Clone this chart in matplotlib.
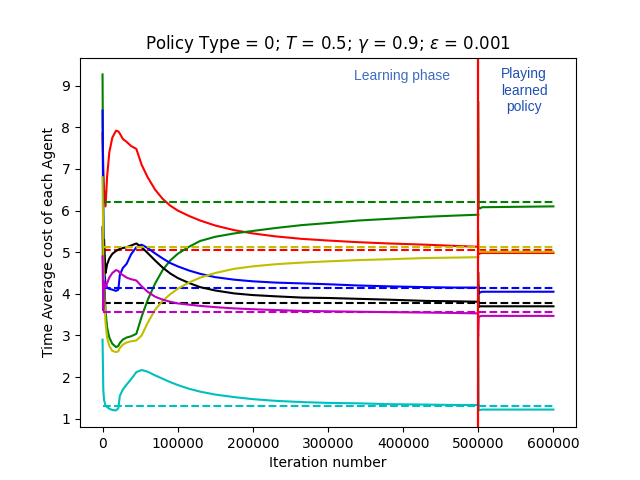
import matplotlib
matplotlib.use('Agg')
import matplotlib.pyplot as plt

# learning phase iterations
learn_x = [0, 1000, 2000, 4000, 6000, 9000, 13000, 18000, 21000, 23000, 27000,
           32000, 38000, 45000, 52000, 60000, 70000, 80000, 90000, 100000, 115000,
           130000, 150000, 175000, 200000, 230000, 265000, 300000, 340000, 380000,
           430000, 470000, 500000]

red_learn = [7.85, 7.0, 6.5, 6.1, 6.8, 7.4, 7.75, 7.92, 7.9, 7.85, 7.72, 7.65, 7.55,
             7.48, 7.1, 6.8, 6.5, 6.28, 6.12, 6.0, 5.87, 5.76, 5.64, 5.53, 5.45, 5.38,
             5.32, 5.28, 5.24, 5.21, 5.18, 5.15, 5.13]
green_learn = [9.27, 6.0, 4.5, 3.6, 3.2, 2.95, 2.8, 2.72, 2.75, 2.82, 2.9, 2.95, 2.98,
               3.04, 3.45, 3.85, 4.25, 4.57, 4.8, 4.96, 5.13, 5.27, 5.37, 5.45, 5.51, 5.58,
               5.65, 5.70, 5.76, 5.80, 5.85, 5.88, 5.90]
blue_learn = [8.4, 5.5, 4.6, 4.25, 4.15, 4.12, 4.1, 4.07, 4.1, 4.45, 4.62, 4.72, 4.95,
              5.12, 5.18, 5.1, 4.97, 4.85, 4.74, 4.66, 4.56, 4.48, 4.40, 4.34, 4.30, 4.27,
              4.25, 4.23, 4.20, 4.18, 4.16, 4.15, 4.15]
black_learn = [5.6, 4.2, 5.3, 4.5, 4.7, 4.85, 4.96, 5.03, 5.06, 5.08, 5.1, 5.12, 5.16,
               5.21, 5.12, 4.98, 4.8, 4.63, 4.49, 4.38, 4.26, 4.16, 4.08, 4.01, 3.97, 3.94,
               3.91, 3.90, 3.88, 3.86, 3.83, 3.82, 3.81]
yellow_learn = [6.8, 5.0, 4.0, 3.3, 2.95, 2.75, 2.63, 2.6, 2.62, 2.7, 2.78, 2.83, 2.86,
                2.88, 3.0, 3.3, 3.62, 3.83, 3.99, 4.12, 4.27, 4.39, 4.5, 4.60, 4.66, 4.71,
                4.75, 4.78, 4.81, 4.83, 4.86, 4.87, 4.88]
magenta_learn = [4.9, 3.6, 4.3, 4.15, 4.25, 4.39, 4.5, 4.57, 4.55, 4.5, 4.45, 4.39, 4.35,
                 4.32, 4.18, 4.05, 3.93, 3.86, 3.81, 3.77, 3.74, 3.71, 3.68, 3.65, 3.63,
                 3.61, 3.59, 3.58, 3.57, 3.56, 3.55, 3.54, 3.53]
cyan_learn = [2.9, 1.7, 1.45, 1.32, 1.28, 1.24, 1.21, 1.2, 1.25, 1.55, 1.7, 1.82, 1.95,
              2.12, 2.17, 2.13, 2.04, 1.96, 1.88, 1.81, 1.72, 1.65, 1.58, 1.52, 1.47, 1.43,
              1.40, 1.38, 1.37, 1.35, 1.34, 1.33, 1.33]

# playing phase iterations
play_x = [500000, 500500, 502000, 505000, 600000]
red_play = [5.1, 4.95, 4.97, 4.98, 4.98]
green_play = [8.6, 6.05, 6.05, 6.08, 6.10]
blue_play = [4.2, 4.0, 4.03, 4.05, 4.05]
black_play = [4.5, 3.68, 3.70, 3.70, 3.70]
yellow_play = [5.5, 5.0, 5.02, 5.01, 5.01]
magenta_play = [3.0, 3.45, 3.46, 3.47, 3.47]
cyan_play = [3.0, 1.2, 1.21, 1.22, 1.22]

# optimal costs (dashed)
optimal = [5.05, 6.21, 4.14, 3.78, 5.13, 3.57, 1.31]
colors = ['r', 'g', 'b', 'k', 'y', 'm', 'c']
dash_x = [0, 600000]

learn = [red_learn, green_learn, blue_learn, black_learn, yellow_learn, magenta_learn, cyan_learn]
play = [red_play, green_play, blue_play, black_play, yellow_play, magenta_play, cyan_play]

fig, ax = plt.subplots(figsize=(6.4, 4.8), dpi=100)

for c, yl, yp, opt in zip(colors, learn, play, optimal):
    ax.plot(learn_x, yl, color=c, lw=1.5)
    ax.plot(play_x, yp, color=c, lw=1.5)
    ax.plot(dash_x, [opt, opt], color=c, ls='--', lw=1.5)

ax.axvline(500000, color='r', lw=1.6)

ax.text(398700, 9.22, 'Learning phase', color='#3d6cc0', ha='center', va='center',
        fontsize=10, family='Liberation Sans')
ax.text(561000, 8.88, 'Playing\nlearned\npolicy', color='#1e50b4', ha='center', va='center',
        fontsize=10, family='Liberation Sans')

ax.set_title('Policy Type = 0; $T$ = 0.5; $\\gamma$ = 0.9; $\\varepsilon$ = 0.001')
ax.set_xlabel('Iteration number')
ax.set_ylabel('Time Average cost of each Agent')

plt.savefig('out.png')
